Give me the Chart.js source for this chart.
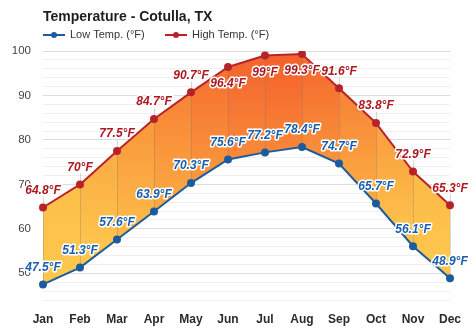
<!DOCTYPE html>
<html>
<head>
<meta charset="utf-8">
<title>Temperature - Cotulla, TX</title>
<script src="https://cdn.jsdelivr.net/npm/chart.js@4.4.1/dist/chart.umd.min.js"></script>
<style>
  html, body { margin: 0; padding: 0; background: #fff; }
  canvas { display: block; }
</style>
</head>
<body>
<canvas id="tempChart" width="474" height="331"></canvas>
<script>
/* Monthly temperature band chart */

const months = ['Jan', 'Feb', 'Mar', 'Apr', 'May', 'Jun', 'Jul', 'Aug', 'Sep', 'Oct', 'Nov', 'Dec'];
const lowTemps = [47.5, 51.3, 57.6, 63.9, 70.3, 75.6, 77.2, 78.4, 74.7, 65.7, 56.1, 48.9];
const highTemps = [64.8, 70, 77.5, 84.7, 90.7, 96.4, 99, 99.3, 91.6, 83.8, 72.9, 65.3];
const yTicksMajor = [50, 60, 70, 80, 90, 100];

const LOW_COLOR = '#1c5c9e';
const HIGH_COLOR = '#b8232a';
const LOW_TEXT = '#175fae';
const HIGH_TEXT = '#ad1820';
const FONT = "'Liberation Sans', Arial, sans-serif";

// yellow -> red ramp keyed on temperature
function ramp(v) {
  const stops = [
    [65, [253, 199, 77]],
    [80, [250, 158, 62]],
    [90, [247, 128, 54]],
    [99, [244, 96, 44]]
  ];
  if (v <= stops[0][0]) return stops[0][1];
  for (let i = 1; i < stops.length; i++) {
    if (v <= stops[i][0]) {
      const [v0, c0] = stops[i - 1];
      const [v1, c1] = stops[i];
      const t = (v - v0) / (v1 - v0);
      return c0.map((c, k) => Math.round(c + (c1[k] - c) * t));
    }
  }
  return stops[stops.length - 1][1];
}
const rgb = c => `rgb(${c[0]},${c[1]},${c[2]})`;

function segmentFill(ctx) {
  const chart = ctx.chart;
  const i = ctx.p0DataIndex, j = ctx.p1DataIndex;
  const hi = (highTemps[i] + highTemps[j]) / 2;
  const lo = (lowTemps[i] + lowTemps[j]) / 2;
  const y = chart.scales.y;
  const g = chart.ctx.createLinearGradient(0, y.getPixelForValue(hi), 0, y.getPixelForValue(lo));
  g.addColorStop(0, rgb(ramp(hi)));
  g.addColorStop(1, rgb(ramp(hi - 11)));
  return g;
}

// high labels that sit under their point (near the top of the plot)
const belowLabels = [5, 6, 7];

function fmt(v) { return v + '°F'; }

const leaderPlugin = {
  id: 'leaders',
  beforeDatasetDraw(chart, args) {
    if (args.index !== 1) return;
    const { ctx } = chart;
    const hiMeta = chart.getDatasetMeta(1);
    const loMeta = chart.getDatasetMeta(0);
    ctx.save();
    ctx.strokeStyle = 'rgba(110,110,110,0.28)';
    ctx.lineWidth = 1;
    hiMeta.data.forEach((p, i) => {
      const x = Math.round(p.x) + 0.5;
      const top = belowLabels.includes(i) ? p.y : p.y - 11;
      ctx.beginPath();
      ctx.moveTo(x, top);
      ctx.lineTo(x, loMeta.data[i].y);
      ctx.stroke();
    });
    ctx.restore();
  }
};

const labelPlugin = {
  id: 'pointLabels',
  afterDatasetsDraw(chart) {
    const { ctx } = chart;
    ctx.save();
    ctx.font = `italic bold 12px ${FONT}`;
    ctx.textAlign = 'center';
    ctx.textBaseline = 'middle';
    ctx.lineJoin = 'round';
    ctx.lineWidth = 3;
    ctx.strokeStyle = '#fff';
    const draw = (metaIdx, values, color) => {
      chart.getDatasetMeta(metaIdx).data.forEach((p, i) => {
        const below = metaIdx === 1 && belowLabels.includes(i);
        const y = below ? p.y + 17 : p.y - 17;
        ctx.strokeText(fmt(values[i]), p.x, y);
        ctx.fillStyle = color;
        ctx.fillText(fmt(values[i]), p.x, y);
      });
    };
    draw(1, highTemps, HIGH_TEXT);
    draw(0, lowTemps, LOW_TEXT);
    ctx.restore();
  }
};

const headerPlugin = {
  id: 'header',
  afterDraw(chart) {
    const { ctx } = chart;
    ctx.save();
    ctx.textBaseline = 'middle';
    ctx.textAlign = 'left';
    ctx.fillStyle = '#1e1e1e';
    ctx.font = `bold 14px ${FONT}`;
    ctx.fillText('Temperature - Cotulla, TX', 43, 17);

    const item = (x, color, text) => {
      ctx.strokeStyle = color;
      ctx.fillStyle = color;
      ctx.lineWidth = 2;
      ctx.beginPath();
      ctx.moveTo(x, 35);
      ctx.lineTo(x + 22, 35);
      ctx.stroke();
      ctx.beginPath();
      ctx.arc(x + 11, 35, 3, 0, Math.PI * 2);
      ctx.fill();
      ctx.fillStyle = '#333';
      ctx.font = `11px ${FONT}`;
      ctx.fillText(text, x + 27, 35);
    };
    item(43, LOW_COLOR, 'Low Temp. (°F)');
    item(165, HIGH_COLOR, 'High Temp. (°F)');
    ctx.restore();
  }
};

new Chart(document.getElementById('tempChart'), {
  type: 'line',
  data: {
    labels: months,
    datasets: [
      {
        label: 'Low Temp. (°F)',
        data: lowTemps,
        borderColor: LOW_COLOR,
        backgroundColor: LOW_COLOR,
        borderWidth: 2,
        pointRadius: 3,
        pointBackgroundColor: LOW_COLOR,
        pointBorderColor: LOW_COLOR,
        fill: false
      },
      {
        label: 'High Temp. (°F)',
        data: highTemps,
        borderColor: HIGH_COLOR,
        backgroundColor: '#f7903a',
        borderWidth: 2,
        pointRadius: 3,
        pointBackgroundColor: HIGH_COLOR,
        pointBorderColor: HIGH_COLOR,
        fill: '-1',
        segment: { backgroundColor: segmentFill }
      }
    ]
  },
  options: {
    responsive: false,
    animation: false,
    layout: { padding: { top: 51, right: 24, left: 0, bottom: 0 } },
    plugins: {
      legend: { display: false },
      title: { display: false },
      tooltip: { enabled: false },
      filler: { drawTime: 'beforeDatasetsDraw' }
    },
    scales: {
      x: {
        grid: { display: false },
        border: { display: false },
        ticks: { color: '#2b2b2b', font: { family: FONT, size: 12, weight: 'bold' }, padding: 4, maxRotation: 0 },
        afterFit: s => { s.height = 31; }
      },
      y: {
        min: 44,
        max: 100,
        border: { display: false },
        grid: {
          drawTicks: false,
          color: c => yTicksMajor.includes(c.tick.value) ? '#dcdcdc' : '#efefef',
          lineWidth: 1
        },
        ticks: {
          stepSize: 2,
          autoSkip: false,
          padding: 12,
          color: '#444',
          font: { family: FONT, size: 11.5 },
          callback: v => (yTicksMajor.includes(v) ? v : '')
        },
        afterFit: s => { s.width = 43; }
      }
    }
  },
  plugins: [leaderPlugin, labelPlugin, headerPlugin]
});
</script>
</body>
</html>
